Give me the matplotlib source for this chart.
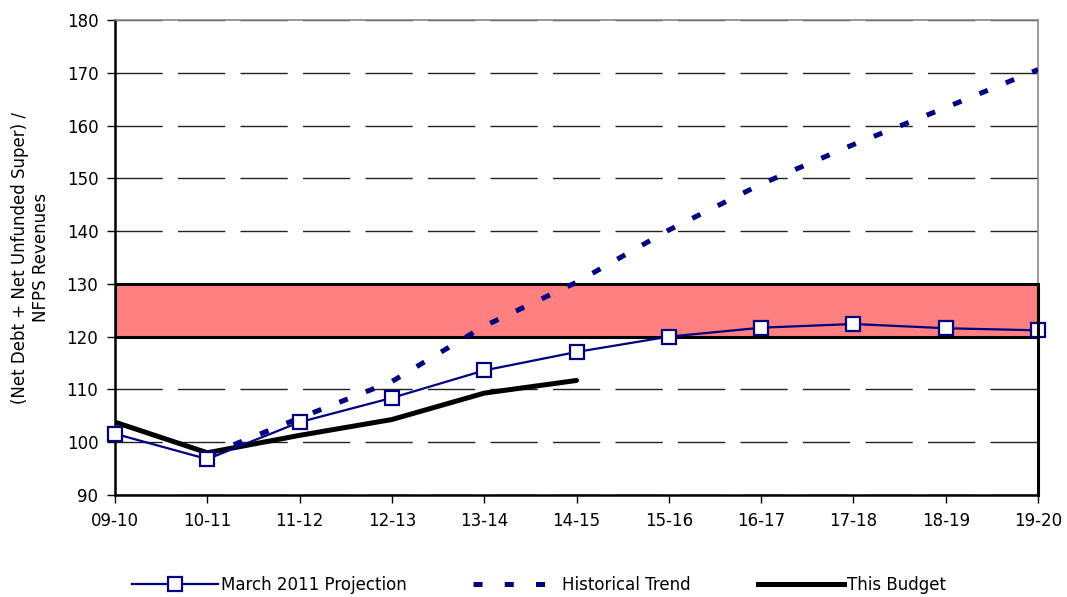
import matplotlib
matplotlib.use("Agg")
import matplotlib.pyplot as plt
from matplotlib.lines import Line2D

plt.rcParams['font.family'] = ['DejaVu Sans']
plt.rcParams['lines.scale_dashes'] = False

years = ["09-10", "10-11", "11-12", "12-13", "13-14", "14-15",
         "15-16", "16-17", "17-18", "18-19", "19-20"]
projection = [101.6, 96.8, 103.8, 108.4, 113.6, 117.1, 120.0, 121.7, 122.4, 121.6, 121.2]
trend_years = years[1:]
historical = [97.5, 104.6, 111.5, 122.0, 130.3, 140.2, 148.9, 156.4, 163.4, 170.6]
budget_years = years[:6]
budget = [103.8, 98.0, 101.3, 104.3, 109.3, 111.7]
band_low, band_high = 120, 130
y_ticks = [90, 100, 110, 120, 130, 140, 150, 160, 170, 180]

FS = 12
navy = '#000080'

fig = plt.figure(figsize=(10.67, 5.97), dpi=100)
ax = fig.add_axes([115/1067, 102/597, 923/1067, 475/597])

x = list(range(len(years)))
xi = {y: i for i, y in enumerate(years)}

# gridlines
for v in y_ticks:
    if v in (band_low, band_high):
        continue
    ax.axhline(v, color='#222222', lw=1.0, dashes=(34, 11), zorder=1)

# band
ax.fill_between([0, len(years) - 1], band_low, band_high, facecolor='#FF8080',
                edgecolor='black', lw=2.2, zorder=2)

ax.plot([xi[y] for y in budget_years], budget, color='black', lw=3.6,
        solid_capstyle='round', zorder=3)
ax.plot([xi[y] for y in trend_years], historical, color=navy, lw=3.6,
        dashes=(6.5, 14), dash_capstyle='butt', zorder=4)
ax.plot(x, projection, color=navy, lw=1.6, marker='s', markersize=10,
        markerfacecolor='white', markeredgecolor=navy, markeredgewidth=1.6,
        zorder=5, clip_on=False)

ax.set_xlim(0, len(years) - 1)
ax.set_ylim(90, 180)
ax.set_xticks(x)
ax.set_xticklabels(years, fontsize=FS)
ax.set_yticks(y_ticks)
ax.set_yticklabels([str(v) for v in y_ticks], fontsize=FS)
ax.tick_params(axis='both', direction='out', length=6, width=1, color='black', pad=6)

for s in ['top', 'right']:
    ax.spines[s].set_color('#888888')
    ax.spines[s].set_linewidth(1.2)
for s in ['left', 'bottom']:
    ax.spines[s].set_color('black')
    ax.spines[s].set_linewidth(1.8)
ax.plot([len(years) - 1, len(years) - 1], [90, band_high], color='black', lw=2.2,
        zorder=6, clip_on=False)

ax.set_ylabel("(Net Debt + Net Unfunded Super) /\nNFPS Revenues", fontsize=FS,
              labelpad=12)

handles = [
    Line2D([], [], color=navy, lw=1.6, marker='s', markersize=10,
           markerfacecolor='white', markeredgecolor=navy, markeredgewidth=1.6),
    Line2D([], [], color=navy, lw=3.6, dashes=(6.5, 16), dash_capstyle='butt'),
    Line2D([], [], color='black', lw=3.6),
]
labels = ["March 2011 Projection", "Historical Trend", "This Budget"]
fig.legend(handles, labels, loc='center', bbox_to_anchor=(0.505, 0.02), ncol=3,
           frameon=False, fontsize=FS, handlelength=5.2, handletextpad=0.15,
           columnspacing=4.0, borderaxespad=0)

fig.savefig("out.png", dpi=100)
